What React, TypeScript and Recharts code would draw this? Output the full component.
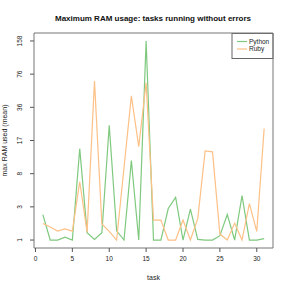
import { LineChart, Line, XAxis, YAxis, ReferenceArea } from 'recharts';

const tasks = [1, 2, 3, 4, 5, 6, 7, 8, 9, 10, 11, 12, 13, 14, 15, 16, 17, 18, 19, 20, 21, 22, 23, 24, 25, 26, 27, 28, 29, 30, 31];
const python = [2.5, 1, 1, 1.13, 1, 13.9, 1.35, 1.03, 1.35, 23.9, 1.45, 1, 10.5, 1, 158, 1, 1, 3.0, 4.1, 1, 2.95, 1.03, 1, 1, 1.2, 2.5, 1, 4.3, 1, 1, 1.06];
const ruby = [1.88, 1.66, 1.44, 1.55, 1.43, 6.2, 1.38, 65, 1.85, 1.42, 1, 8.8, 46.5, 14.6, 62.5, 2.1, 2.1, 1, 1, 2.1, 1, 2.2, 13.2, 12.9, 1.28, 1, 1.9, 1, 3.45, 1.42, 22.2];
const xTicks = [0, 5, 10, 15, 20, 25, 30];
const seriesNames = ['Python', 'Ruby'];

// y axis is log(1 + value), ticks evenly spaced between data min and max
const tf = (v: number) => Math.log1p(v);
const all = [...python, ...ruby];
const fMin = tf(Math.min(...all));
const fMax = tf(Math.max(...all));
const pad = (fMax - fMin) * 0.04;
const yTicks = Array.from({ length: 7 }, (_, k) => fMin + (k * (fMax - fMin)) / 6);

const data = tasks.map((t, i) => ({ task: t, python: tf(python[i]), ruby: tf(ruby[i]) }));

const GREEN = '#7FC97F';
const ORANGE = '#FDC086';
const FONT = '"Liberation Sans", Arial, sans-serif';

function YTick({ x, y, payload }: any) {
  return (
    <text
      x={x - 6}
      y={y}
      transform={`rotate(-90 ${x - 6} ${y})`}
      textAnchor="middle"
      fontSize={6.5}
      fontFamily={FONT}
      fill="#222"
    >
      {Math.round(Math.expm1(payload.value))}
    </text>
  );
}

function LegendBox() {
  const colors = [GREEN, ORANGE];
  return (
    <g>
      <rect x={232} y={33.5} width={41} height={25} fill="#fff" stroke="#666" strokeWidth={1} />
      {seriesNames.map((name, i) => (
        <g key={name}>
          <line x1={237} x2={247} y1={41.5 + i * 7.5} y2={41.5 + i * 7.5} stroke={colors[i]} strokeWidth={1.2} />
          <text x={249} y={43.8 + i * 7.5} fontSize={6.5} fontFamily={FONT} style={{ fill: '#222' }}>
            {name}
          </text>
        </g>
      ))}
    </g>
  );
}

export default function App() {
  return (
    <div style={{ position: 'relative', width: 291, height: 291, background: '#fff' }}>
      <style>{'body{margin:0}'}</style>
      <LineChart width={291} height={291} data={data} margin={{ top: 33, right: 18, bottom: 0, left: 0 }}>
        <XAxis
          dataKey="task"
          type="number"
          domain={[-0.2, 32.2]}
          ticks={xTicks}
          allowDataOverflow
          height={43}
          axisLine={false}
          tickLine={{ stroke: '#555' }}
          tickSize={4}
          tick={{ fontSize: 6.5, fontFamily: FONT, fill: '#222', dy: 2 }}
          label={{ value: 'task', position: 'insideBottom', offset: 11, fontSize: 7, fontFamily: FONT, fill: '#222' }}
        />
        <YAxis
          type="number"
          domain={[fMin - pad, fMax + pad]}
          ticks={yTicks}
          allowDataOverflow
          width={34}
          axisLine={false}
          tickLine={{ stroke: '#555' }}
          tickSize={4}
          tick={<YTick />}
          label={{
            value: 'max RAM used (mean)',
            angle: -90,
            position: 'insideLeft',
            offset: 5,
            style: { textAnchor: 'middle' },
            fontSize: 7,
            fontFamily: FONT,
            fill: '#222',
          }}
        />
        <ReferenceArea
          x1={-0.2}
          x2={32.2}
          y1={fMin - pad}
          y2={fMax + pad}
          fill="none"
          stroke="#777"
          strokeWidth={1}
          ifOverflow="visible"
        />
        <Line type="linear" dataKey="python" stroke={GREEN} strokeWidth={1.2} dot={false} isAnimationActive={false} />
        <Line type="linear" dataKey="ruby" stroke={ORANGE} strokeWidth={1.2} dot={false} isAnimationActive={false} />
        <LegendBox />
        <text x={153} y={21} textAnchor="middle" fontSize={8} fontWeight="bold" fontFamily={FONT} fill="#111">
          Maximum RAM usage: tasks running without errors
        </text>
      </LineChart>
    </div>
  );
}
